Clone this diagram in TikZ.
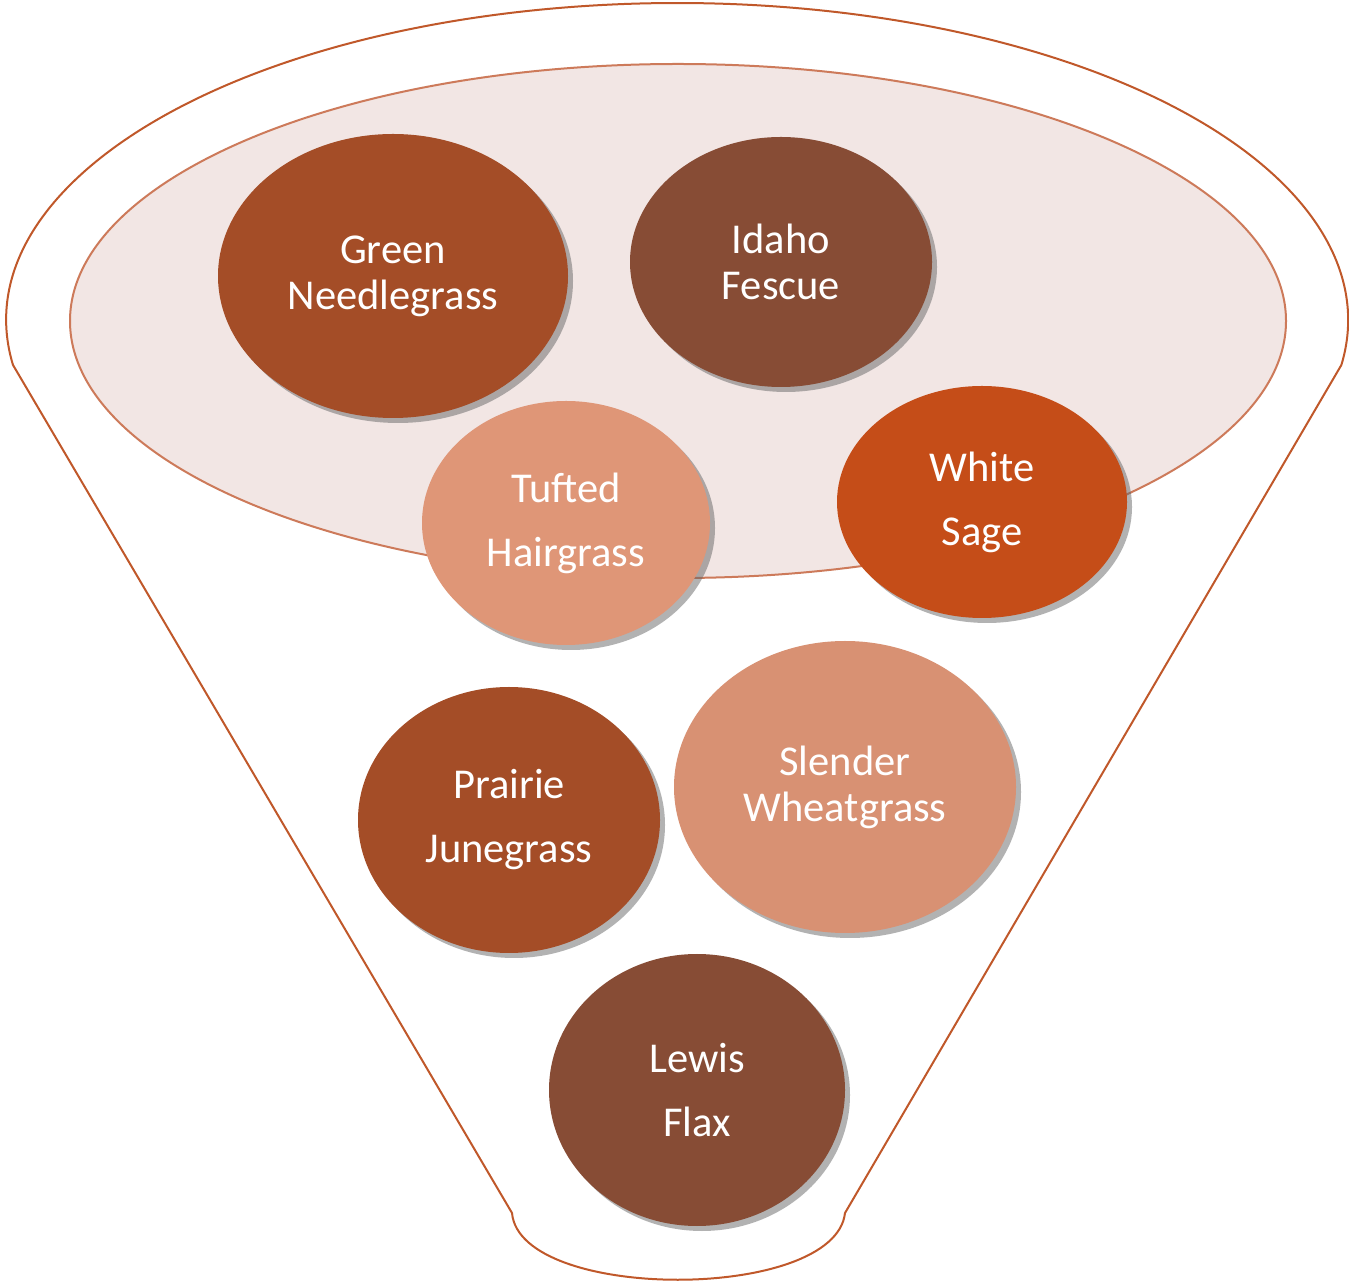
\documentclass[tikz,border=0pt]{standalone}
\usepackage{fontspec}
\setmainfont{Carlito}
\usetikzlibrary{shapes.geometric,shadows}
\definecolor{rust}{HTML}{A44D27}
\definecolor{darkbrown}{HTML}{874C35}
\definecolor{salmon}{HTML}{DF9677}
\definecolor{orangered}{HTML}{C54D18}
\definecolor{outline}{HTML}{C0582A}
\definecolor{innerline}{HTML}{CD7A5A}
\definecolor{innerfill}{HTML}{F2E6E4}
\tikzset{
  blob/.style={ellipse, inner sep=0pt, align=center, text=white,
    font=\fontsize{42.5}{46}\selectfont,
    drop shadow={shadow xshift=5pt, shadow yshift=-5pt, opacity=0.5, fill=black!60}},
  tallblob/.style={blob, font=\fontsize{42.5}{64}\selectfont},
}
\begin{document}
\begin{tikzpicture}[x=1pt,y=1pt]
\useasboundingbox (0,0) rectangle (1349,1283);
% funnel outline
\coordinate (fl) at (13,918);
\coordinate (bl) at (512,70);
\coordinate (br) at (845,70);
\draw[outline, line width=2pt, fill=white, line join=round]
  (fl) arc[start angle=188.16, end angle=-8.16, x radius=671pt, y radius=317pt]
  -- (br) .. controls (835,-19) and (520,-19) .. (bl) -- cycle;
% inner ellipse
\node[ellipse, draw=innerline, fill=innerfill, line width=2pt,
  minimum width=1216pt, minimum height=514pt, inner sep=0pt] (top) at (678,962) {};
% circles
\node[blob, fill=rust, minimum width=350pt, minimum height=284pt] (gn) at (393,1007) {Green\\Needlegrass};
\node[blob, fill=darkbrown, minimum width=302pt, minimum height=250pt] (if) at (781,1021) {Idaho\\Fescue};
\node[tallblob, fill=salmon, minimum width=288pt, minimum height=244pt] (th) at (566,760) {Tufted\\Hairgrass};
\node[tallblob, fill=orangered, minimum width=290pt, minimum height=232pt] (ws) at (982,781) {White\\Sage};
\node[tallblob, fill=rust, minimum width=302pt, minimum height=266pt] (pj) at (509,463) {Prairie\\Junegrass};
\node[blob, fill=salmon!97!black, minimum width=342pt, minimum height=292pt] (sw) at (845,496) {Slender\\Wheatgrass};
\node[tallblob, fill=darkbrown, minimum width=296pt, minimum height=272pt] (lf) at (697,193) {Lewis\\Flax};
\end{tikzpicture}
\end{document}
